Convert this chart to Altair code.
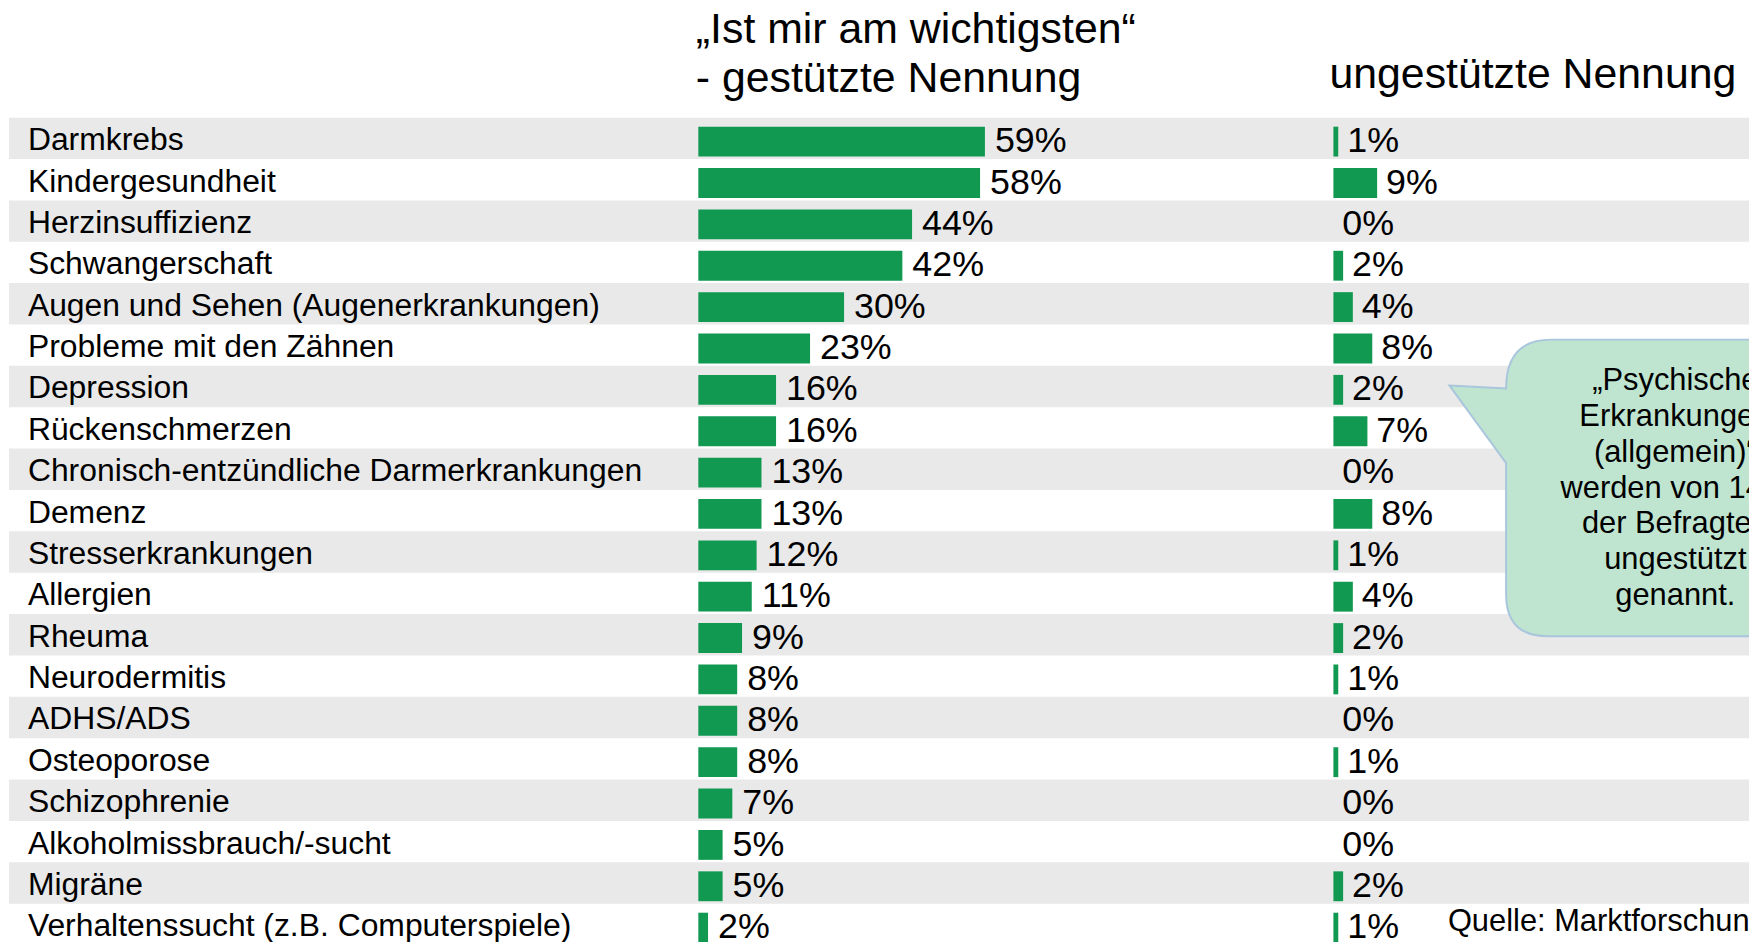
import altair as alt
import pandas as pd

categories = [
    "Darmkrebs", "Kindergesundheit", "Herzinsuffizienz", "Schwangerschaft",
    "Augen und Sehen (Augenerkrankungen)", "Probleme mit den Zähnen", "Depression",
    "Rückenschmerzen", "Chronisch-entzündliche Darmerkrankungen", "Demenz",
    "Stresserkrankungen", "Allergien", "Rheuma", "Neurodermitis", "ADHS/ADS",
    "Osteoporose", "Schizophrenie", "Alkoholmissbrauch/-sucht", "Migräne",
    "Verhaltenssucht (z.B. Computerspiele)",
]
gestuetzt = [59, 58, 44, 42, 30, 23, 16, 16, 13, 13, 12, 11, 9, 8, 8, 8, 7, 5, 5, 2]
ungestuetzt = [1, 9, 0, 2, 4, 8, 2, 7, 0, 8, 1, 4, 2, 1, 0, 1, 0, 0, 2, 1]

title_left = ["„Ist mir am wichtigsten“", "- gestützte Nennung"]
title_right = ["ungestützte Nennung"]
callout_lines = ["„Psychische", "Erkrankungen", "(allgemein)“", "werden von 14%",
                 "der Befragten", "ungestützt", "genannt."]
source_text = ["Quelle: Marktforschung"]

FONT = "Liberation Sans"
GREEN = "#119952"
GRAY = "#e9e9e9"

df = pd.DataFrame({
    "cat": categories,
    "g": gestuetzt,
    "u": ungestuetzt,
    "idx": list(range(len(categories))),
})

yscale = alt.Scale(domain=categories, range=[108, 939.2], paddingInner=0, paddingOuter=0)
Y = alt.Y("cat:N", sort=categories, scale=yscale, axis=None)
xl = alt.Scale(domain=[0, 100], range=[693.5, 693.5 + 488])
xr = alt.Scale(domain=[0, 100], range=[1331.5, 1331.5 + 488])

base = alt.Chart(df)

bands = base.transform_filter("datum.idx % 2 == 0").mark_rect(color=GRAY).encode(
    y=Y, x=alt.value(1), x2=alt.value(1800)
)

bubble_path = ("M -1.0 -0.51 L -0.715 -0.495 Q -0.715 -0.74 -0.49 -0.74 L 1 -0.74 "
               "L 1 0.75 L -0.505 0.75 Q -0.715 0.75 -0.715 0.54 L -0.715 -0.12 Z")
bubble = alt.Chart(pd.DataFrame({"k": [0]})).mark_point(
    shape=bubble_path, size=160000, filled=True, fill="#bfe5d1", stroke="#a9c6dc",
    strokeWidth=2, opacity=1, fillOpacity=1, strokeOpacity=1,
).encode(x=alt.value(1648), y=alt.value(479))

row_labels = base.mark_text(
    align="left", baseline="alphabetic", dy=12, fontSize=32, font=FONT, color="black"
).encode(y=Y, x=alt.value(20), text="cat:N")

bars_l = base.mark_bar(color=GREEN, height=30, yOffset=3.3).encode(
    y=Y, x=alt.X("g:Q", scale=xl, axis=None)
)
text_l = base.transform_calculate(lab="datum.g + '%'").mark_text(
    align="left", baseline="alphabetic", dx=10, dy=14, fontSize=36, font=FONT, color="black"
).encode(y=Y, x=alt.X("g:Q", scale=xl, axis=None), text="lab:N")

bars_r = base.transform_filter("datum.u > 0").mark_bar(color=GREEN, height=30, yOffset=3.3).encode(
    y=Y, x=alt.X("u:Q", scale=xr, axis=None)
)
text_r = base.transform_calculate(lab="datum.u + '%'").mark_text(
    align="left", baseline="alphabetic", dx=9, dy=14, fontSize=36, font=FONT, color="black"
).encode(y=Y, x=alt.X("u:Q", scale=xr, axis=None), text="lab:N")

t_left = alt.Chart(pd.DataFrame({"t": [title_left]})).mark_text(
    align="left", baseline="alphabetic", fontSize=43, font=FONT, lineHeight=49, color="black"
).encode(x=alt.value(691), y=alt.value(33), text="t")

t_right = alt.Chart(pd.DataFrame({"t": title_right})).mark_text(
    align="left", baseline="alphabetic", fontSize=43, font=FONT, color="black"
).encode(x=alt.value(1327.5), y=alt.value(78), text="t:N")

t_callout = alt.Chart(pd.DataFrame({"t": [callout_lines]})).mark_text(
    align="center", baseline="alphabetic", fontSize=31, font=FONT, lineHeight=35.9, color="black"
).encode(x=alt.value(1675), y=alt.value(382), text="t")

t_source = alt.Chart(pd.DataFrame({"t": source_text})).mark_text(
    align="left", baseline="alphabetic", fontSize=31, font=FONT, color="black"
).encode(x=alt.value(1446.5), y=alt.value(925), text="t:N")

chart = alt.layer(
    bands, bubble, row_labels, bars_l, text_l, bars_r, text_r,
    t_left, t_right, t_callout, t_source,
).resolve_scale(x="independent").properties(
    width=1749, height=934, autosize=alt.AutoSizeParams(type="none"), padding=0,
    background="white",
).configure_view(stroke=None)

chart.save("out.html", embed_options={"renderer": "svg", "actions": False})
